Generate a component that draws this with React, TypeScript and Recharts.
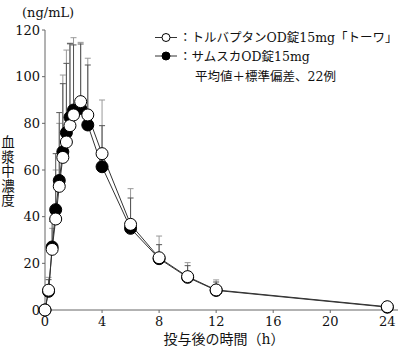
import { ComposedChart, Line, XAxis, YAxis, ErrorBar } from 'recharts'

// time after dosing (h)
const times = [0, 0.25, 0.5, 0.75, 1, 1.25, 1.5, 1.75, 2, 2.5, 3, 4, 6, 8, 10, 12, 24]

// トルバプタンOD錠15mg「トーワ」 (open circles)
const towaMean = [0, 8.5, 26, 39, 53, 65.4, 72, 79, 83.6, 89.3, 83.6, 67, 36.7, 22.4, 14.3, 8.6, 1.4]
const towaSD = [0, 5.5, 9, 21, 27, 35.3, 39.4, 35, 33.1, 25.4, 24.3, 23, 15.3, 9.3, 6, 4.3, 0.6]

// サムスカOD錠15mg (filled circles)
const samscaMean = [0, 8, 27, 43, 55.5, 67.8, 76, 82.6, 85.7, 86.4, 79.3, 61.4, 35, 22, 14, 8.4, 1.2]
const samscaSD = [0, 5, 11, 24, 29.1, 29.2, 29.7, 31.7, 27.9, 27.6, 25.7, 17.6, 13, 6, 5, 3.6, 0.5]

const xTicks = [0, 4, 8, 12, 16, 20, 24]
const yTicks = [0, 20, 40, 60, 80, 100, 120]

const NUM_FONT = '"DejaVu Serif", "Liberation Serif", serif'
const JP_FONT = '"DejaVu Serif", "Noto Sans CJK JP", serif'

const data = times.map((t, i) => ({
  t,
  towa: towaMean[i],
  towaErr: [0, towaSD[i]],
  samsca: samscaMean[i],
  samscaErr: [0, samscaSD[i]],
}))

const tickStyle = { fill: '#111', fontSize: 13, fontFamily: NUM_FONT }

export default function App() {
  return (
    <div style={{ position: 'absolute', left: 0, top: 0, width: 400, height: 351, background: '#fff' }}>
      <ComposedChart width={400} height={351} data={data} margin={{ top: 30, right: 2, bottom: 0, left: 0 }}>
        <XAxis
          dataKey="t"
          type="number"
          domain={[0, 24.75]}
          ticks={xTicks}
          height={41}
          tickSize={3}
          tickMargin={4}
          stroke="#666"
          tick={tickStyle}
        />
        <YAxis
          type="number"
          domain={[0, 120]}
          ticks={yTicks}
          width={45}
          tickSize={3}
          tickMargin={2}
          stroke="#666"
          tick={tickStyle}
        />
        {/* error bars first, so every circle sits on top */}
        <Line dataKey="towa" stroke="none" dot={false} activeDot={false} isAnimationActive={false}>
          <ErrorBar dataKey="towaErr" direction="y" width={3} stroke="#999" strokeWidth={1} />
        </Line>
        <Line dataKey="samsca" stroke="none" dot={false} activeDot={false} isAnimationActive={false}>
          <ErrorBar dataKey="samscaErr" direction="y" width={3} stroke="#555" strokeWidth={1} />
        </Line>
        <Line
          dataKey="samsca"
          type="linear"
          stroke="#333"
          strokeWidth={1}
          dot={{ r: 6, fill: '#000', stroke: '#000', strokeWidth: 1 }}
          isAnimationActive={false}
        />
        <Line
          dataKey="towa"
          type="linear"
          stroke="#333"
          strokeWidth={1}
          dot={{ r: 6, fill: '#fff', stroke: '#000', strokeWidth: 1 }}
          isAnimationActive={false}
        />
      </ComposedChart>

      {/* unit */}
      <div style={{ position: 'absolute', left: 22, top: 5, fontSize: 13, fontFamily: NUM_FONT, color: '#111' }}>
        (ng/mL)
      </div>

      {/* y label, vertical */}
      <div style={{ position: 'absolute', left: 1, top: 135, width: 14, fontSize: 13.5, lineHeight: '14.6px', fontFamily: JP_FONT, color: '#111', textAlign: 'center' }}>
        {'血漿中濃度'.split('').map((c) => <div key={c}>{c}</div>)}
      </div>

      {/* x label */}
      <div style={{ position: 'absolute', left: 0, width: 448, top: 328, textAlign: 'center', fontSize: 14, fontFamily: JP_FONT, color: '#111' }}>
        投与後の時間（h）
      </div>

      {/* legend */}
      <svg style={{ position: 'absolute', left: 150, top: 28 }} width={32} height={36}>
        <line x1={5} y1={9.5} x2={27} y2={9.5} stroke="#333" />
        <circle cx={16} cy={9.5} r={4} fill="#fff" stroke="#000" />
        <line x1={5} y1={28} x2={27} y2={28} stroke="#333" />
        <circle cx={16} cy={28} r={4} fill="#000" stroke="#000" />
      </svg>
      <div style={{ position: 'absolute', left: 179, top: 29, fontSize: 12.5, lineHeight: '18.5px', fontFamily: JP_FONT, color: '#111', whiteSpace: 'nowrap' }}>
        <div>：トルバプタンOD錠15mg「トーワ」</div>
        <div>：サムスカOD錠15mg</div>
        <div style={{ paddingLeft: 16, marginTop: 2 }}>平均値＋標準偏差、22例</div>
      </div>
    </div>
  )
}
